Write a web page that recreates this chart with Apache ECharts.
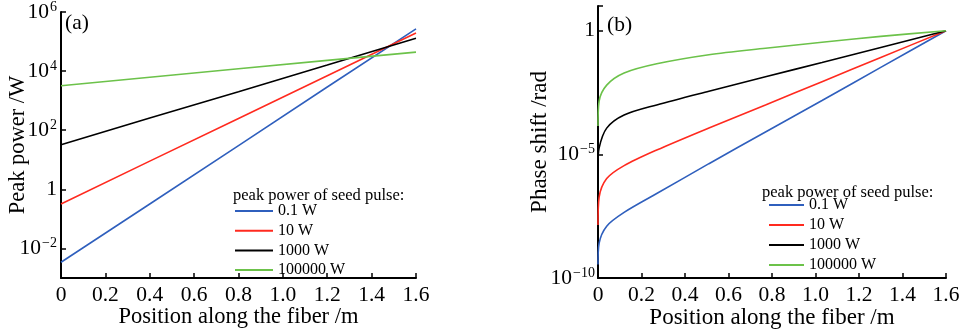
<!DOCTYPE html>
<html>
<head>
<meta charset="utf-8">
<script src="https://cdn.jsdelivr.net/npm/echarts@6/dist/echarts.min.js"></script>
<style>
  html, body { margin: 0; padding: 0; background: #fff; }
  #main { width: 968px; height: 334px; }
</style>
</head>
<body>
<div id="main"></div>
<script>
// names of the seed pulse powers
var seedNames = ['0.1 W', '10 W', '1000 W', '100000 W'];
var seedColors = ['#2f5fbd', '#ff2a1f', '#000000', '#6cc24a'];

// (a) peak power along the fiber
var posA = [0, 0.4, 0.8, 1.2, 1.6];
var powerBlue  = [3.4e-3, 0.32, 30, 2900, 2.7e5];
var powerRed   = [0.32, 9, 250, 7000, 1.95e5];
var powerBlack = [32, 260, 2000, 16000, 1.3e5];
var powerGreen = [3200, 6200, 12000, 23000, 44000];

// (b) phase shift along the fiber
var posB = [0, 0.005, 0.04, 0.12, 0.27, 0.51, 0.77, 1.03, 1.3, 1.6];
var phaseBlue  = [3.5e-10, 2.5e-9, 1.25e-8, 4.5e-8, 2.6e-7, 4.2e-6, 8e-5, 1.5e-3, 0.033, 1];
var phaseRed   = [1.4e-8, 1.8e-7, 1.05e-6, 3.5e-6, 1.5e-5, 1.17e-4, 1e-3, 8.7e-3, 0.083, 1];
var phaseBlack = [3.9e-6, 1.8e-5, 1.15e-4, 3.9e-4, 1e-3, 3.6e-3, 0.0138, 0.052, 0.21, 1];
var phaseGreen = [1.4e-4, 1.4e-3, 6.3e-3, 0.0195, 0.046, 0.107, 0.195, 0.34, 0.59, 1];

// tick values
var yTicksA = [1e-2, 1, 1e2, 1e4, 1e6];
var yTicksB = [1e-10, 1e-5, 1];
var yTickMarksB = [1e-10, 1e-5, 1, 10];

var ff = '"Liberation Serif", "DejaVu Serif", serif';

function pairs(xs, ys) {
  return xs.map(function (x, i) { return [x, ys[i]]; });
}

function logLabel(v) {
  var e = Math.round(Math.log10(v));
  if (e === 0) return '{b|1}';
  return '{b|10}{s|' + (e < 0 ? '\u2212' + (-e) : e) + '}';
}

var rich = {
  b: { fontSize: 21.5, fontFamily: ff, color: '#000', lineHeight: 24 },
  s: { fontSize: 14, fontFamily: ff, color: '#000', verticalAlign: 'top', lineHeight: 24, padding: [0, 0, 0, 1] }
};

function xAxisOf(idx) {
  return {
    type: 'value', gridIndex: idx, min: 0, max: 1.6, interval: 0.2,
    name: 'Position along the fiber /m', nameLocation: 'middle', nameGap: 28,
    nameMoveOverlap: false,
    nameTextStyle: { fontSize: idx === 0 ? 22.5 : 23, fontFamily: ff, color: '#000' },
    axisLine: { lineStyle: { color: '#000', width: 2 } },
    axisTick: { inside: true, length: 5, lineStyle: { color: '#000', width: 1.5 } },
    axisLabel: {
      fontSize: 21.5, fontFamily: ff, color: '#000', margin: 6,
      formatter: function (v) { return v === 0 ? '0' : v.toFixed(1); }
    },
    splitLine: { show: false }
  };
}

function yAxisOf(idx, min, max, name, gap, labels, ticks) {
  return {
    type: 'log', logBase: 10, gridIndex: idx, min: min, max: max,
    name: name, nameLocation: 'middle', nameGap: gap, nameMoveOverlap: false,
    nameTextStyle: { fontSize: idx === 0 ? 22.5 : 23, fontFamily: ff, color: '#000' },
    axisLine: { lineStyle: { color: '#000', width: 2 } },
    axisTick: { inside: true, length: 5, customValues: ticks, lineStyle: { color: '#000', width: 1.5 } },
    axisLabel: {
      customValues: labels, margin: idx === 0 ? 4 : 3, formatter: logLabel, rich: rich,
      verticalAlignMinLabel: 'middle', verticalAlignMaxLabel: 'middle'
    },
    splitLine: { show: false }
  };
}

function lineSeries(name, idx, xs, ys, color, smooth) {
  return {
    name: name, type: 'line', xAxisIndex: idx, yAxisIndex: idx,
    data: pairs(xs, ys), symbol: 'none', smooth: smooth,
    lineStyle: { color: color, width: 1.6 }, itemStyle: { color: color },
    animation: false
  };
}

function legendOf(left, top, width, gap) {
  return {
    data: seedNames, orient: 'vertical', left: left, top: top, padding: 0,
    itemWidth: width, itemHeight: 14, itemGap: gap, selectedMode: false,
    itemStyle: { opacity: 0 },
    textStyle: { fontSize: 16, fontFamily: ff, color: '#000' }
  };
}

var chart = echarts.init(document.getElementById('main'));

chart.setOption({
  backgroundColor: '#fff',
  animation: false,
  title: [
    { text: '(a)', left: 65, top: 12, padding: 0, textStyle: { fontSize: 21.5, fontWeight: 'normal', fontFamily: ff, color: '#000' } },
    { text: '(b)', left: 607, top: 14, padding: 0, textStyle: { fontSize: 21.5, fontWeight: 'normal', fontFamily: ff, color: '#000' } },
    { text: 'peak power of seed pulse:', left: 233, top: 187, padding: 0, textStyle: { fontSize: 16.5, fontWeight: 'normal', fontFamily: ff, color: '#000' } },
    { text: 'peak power of seed pulse:', left: 762, top: 184, padding: 0, textStyle: { fontSize: 16.5, fontWeight: 'normal', fontFamily: ff, color: '#000' } }
  ],
  grid: [
    { left: 61, right: 552, top: 11, bottom: 53 },
    { left: 598, right: 22, top: 6, bottom: 53 }
  ],
  legend: [
    legendOf(234, 203, 38, 3.7),
    legendOf(768, 197, 35, 4)
  ],
  xAxis: [xAxisOf(0), xAxisOf(1)],
  yAxis: [
    yAxisOf(0, 1e-3, 1e6, 'Peak power /W', 31, yTicksA, yTicksA),
    yAxisOf(1, 1e-10, 10, 'Phase shift /rad', 47, yTicksB, yTickMarksB)
  ],
  series: [
    lineSeries(seedNames[0], 0, posA, powerBlue, seedColors[0], false),
    lineSeries(seedNames[1], 0, posA, powerRed, seedColors[1], false),
    lineSeries(seedNames[2], 0, posA, powerBlack, seedColors[2], false),
    lineSeries(seedNames[3], 0, posA, powerGreen, seedColors[3], false),
    lineSeries(seedNames[0], 1, posB, phaseBlue, seedColors[0], 0.3),
    lineSeries(seedNames[1], 1, posB, phaseRed, seedColors[1], 0.3),
    lineSeries(seedNames[2], 1, posB, phaseBlack, seedColors[2], 0.3),
    lineSeries(seedNames[3], 1, posB, phaseGreen, seedColors[3], 0.3)
  ]
});
</script>
</body>
</html>
